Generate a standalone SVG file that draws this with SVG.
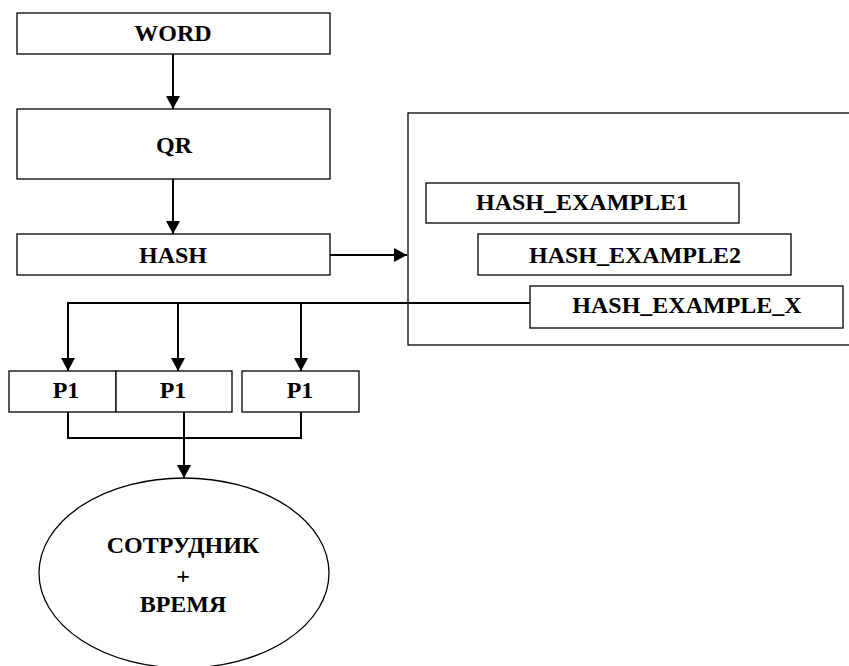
<svg xmlns="http://www.w3.org/2000/svg" width="849" height="666" viewBox="0 0 849 666">
<defs>
<style>
.box{fill:#fff;stroke:#000;stroke-width:1.3}
.c{fill:none;stroke:#000;stroke-width:2}
text{font-family:"Liberation Serif";font-weight:bold;font-size:24px;text-anchor:middle;fill:#000}
</style>
<marker id="ah" markerWidth="14" markerHeight="14" viewBox="0 0 14 14" refX="13" refY="7" orient="auto" markerUnits="userSpaceOnUse">
<path d="M0,0 L13,7 L0,14 Z" fill="#000"/>
</marker>
</defs>
<rect width="849" height="666" fill="#fff"/>
<g id="container"><rect class="box" x="408" y="113" width="460" height="232"/></g>
<g id="connectors">
<line class="c" x1="173" y1="54" x2="173" y2="109" marker-end="url(#ah)"/>
<line class="c" x1="173" y1="179" x2="173" y2="234" marker-end="url(#ah)"/>
<line class="c" x1="330" y1="255" x2="407" y2="255" marker-end="url(#ah)"/>
<polyline class="c" points="530,303 68,303 68,371" marker-end="url(#ah)"/>
<line class="c" x1="178" y1="303" x2="178" y2="371" marker-end="url(#ah)"/>
<line class="c" x1="301" y1="303" x2="301" y2="371" marker-end="url(#ah)"/>
<polyline class="c" points="68,412 68,438 301,438 301,412"/>
<line class="c" x1="184" y1="412" x2="184" y2="478" marker-end="url(#ah)"/>
</g>
<g id="word"><rect class="box" x="17" y="13" width="313" height="41"/><text x="173" y="41">WORD</text></g>
<g id="qr"><rect class="box" x="17" y="109" width="313" height="70"/><text x="174" y="153">QR</text></g>
<g id="hash"><rect class="box" x="17" y="234" width="313" height="41"/><text x="173" y="263">HASH</text></g>
<g id="hash1"><rect class="box" x="426" y="183" width="313" height="40"/><text x="582" y="210">HASH_EXAMPLE1</text></g>
<g id="hash2"><rect class="box" x="478" y="234" width="313" height="41"/><text x="635" y="263">HASH_EXAMPLE2</text></g>
<g id="hashx"><rect class="box" x="530" y="286" width="313" height="42"/><text x="687" y="313">HASH_EXAMPLE_X</text></g>
<g id="p1a"><rect class="box" x="9" y="371" width="107" height="41"/><text x="66" y="398">P1</text></g>
<g id="p1b"><rect class="box" x="116" y="371" width="116" height="41"/><text x="173" y="398">P1</text></g>
<g id="p1c"><rect class="box" x="242" y="371" width="117" height="41"/><text x="300" y="398">P1</text></g>
<g id="employee"><ellipse class="box" cx="184" cy="573" rx="145" ry="95" stroke-width="1"/>
<text x="183" y="553">СОТРУДНИК</text>
<text x="183" y="584">+</text>
<text x="183" y="612">ВРЕМЯ</text></g>
</svg>
